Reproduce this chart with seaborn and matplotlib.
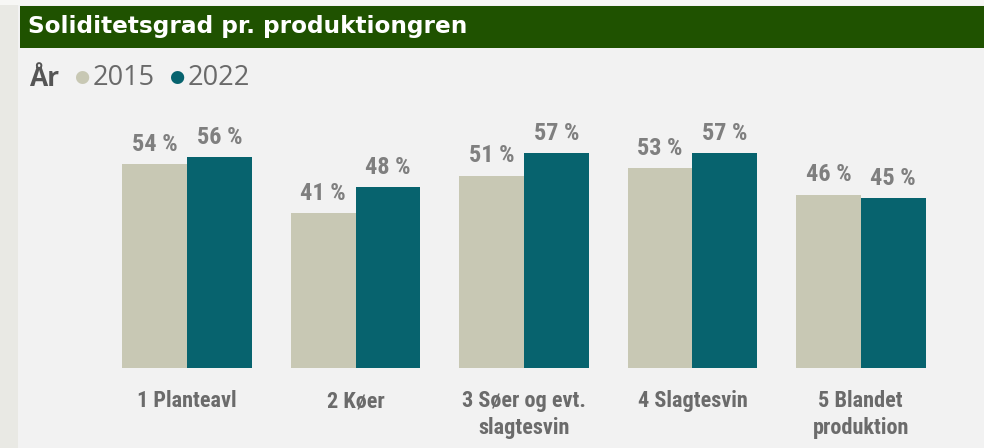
import pandas as pd
import matplotlib.pyplot as plt
import seaborn as sns
from matplotlib.patches import Rectangle

categories = ['1 Planteavl', '2 Køer', '3 Søer og evt.\nslagtesvin',
              '4 Slagtesvin', '5 Blandet\nproduktion']
years = ['2015', '2022']
values_2015 = [54, 41, 51, 53, 46]
values_2022 = [56, 48, 57, 57, 45]
colors = ['#c8c8b4', '#07636e']

df = pd.DataFrame({
    'Produktiongren': categories * 2,
    'År': [years[0]] * len(categories) + [years[1]] * len(categories),
    'Soliditetsgrad': values_2015 + values_2022,
})

sns.set_theme(style='white')
narrow = ['Roboto Condensed', 'Liberation Sans Narrow', 'DejaVu Sans']
plt.rcParams['font.family'] = narrow

fig = plt.figure(figsize=(9.84, 4.48), dpi=100, facecolor='#f2f2f2')

# page frame: left strip and green header
fig.patches.append(Rectangle((0, 0), 18 / 984, 1, transform=fig.transFigure,
                             facecolor='#e9e9e4', edgecolor='none', zorder=0))
fig.patches.append(Rectangle((0, 1 - 5 / 448), 1, 5 / 448, transform=fig.transFigure,
                             facecolor='#f7f7f5', edgecolor='none', zorder=0))
fig.patches.append(Rectangle((20 / 984, 1 - 48 / 448), 1, 42 / 448,
                             transform=fig.transFigure,
                             facecolor='#1f5200', edgecolor='none', zorder=1))
fig.text(28 / 984, 1 - 27 / 448, 'Soliditetsgrad pr. produktiongren',
         color='white', fontsize=16.7, fontweight='bold', va='center', ha='left',
         family='DejaVu Sans')

# legend
fig.text(29 / 984, 1 - 78 / 448, 'År', color='#555555', fontsize=19,
         fontweight='bold', va='center', ha='left', family=['Open Sans', 'DejaVu Sans'])
for xdot, xtxt, year, col in [(82, 93, years[0], colors[0]), (177, 188, years[1], colors[1])]:
    fig.text(xdot / 984, 1 - 77 / 448, '●', color=col, fontsize=12.5,
             va='center', ha='center', family='DejaVu Sans')
    fig.text(xtxt / 984, 1 - 78 / 448, year, color='#6a6a6a', fontsize=19.5,
             va='center', ha='left', family=['Open Sans', 'DejaVu Sans'])

ax = fig.add_axes([103 / 984, 80 / 448, 842 / 984, 248 / 448])
ax.set_facecolor('#f2f2f2')
sns.barplot(data=df, x='Produktiongren', y='Soliditetsgrad', hue='År',
            palette=colors, width=0.77, saturation=1, legend=False,
            linewidth=0, ax=ax)

for container in ax.containers:
    ax.bar_label(container, fmt='%d %%', padding=6, fontsize=17.5,
                 fontweight='bold', color='#7f7f7f')

ax.set_ylim(0, 65.8)
ax.set_xlim(-0.5, 4.5)
ax.set_yticks([])
ax.set_xlabel('')
ax.set_ylabel('')
ax.tick_params(axis='x', length=0, pad=16)
for lbl in ax.get_xticklabels():
    lbl.set_fontsize(16)
    lbl.set_fontweight('bold')
    lbl.set_color('#6b6b6b')
    lbl.set_linespacing(1.3)
    lbl.set_verticalalignment('top')
sns.despine(ax=ax, left=True, bottom=True)

fig.savefig('out.png', dpi=100, facecolor=fig.get_facecolor())
